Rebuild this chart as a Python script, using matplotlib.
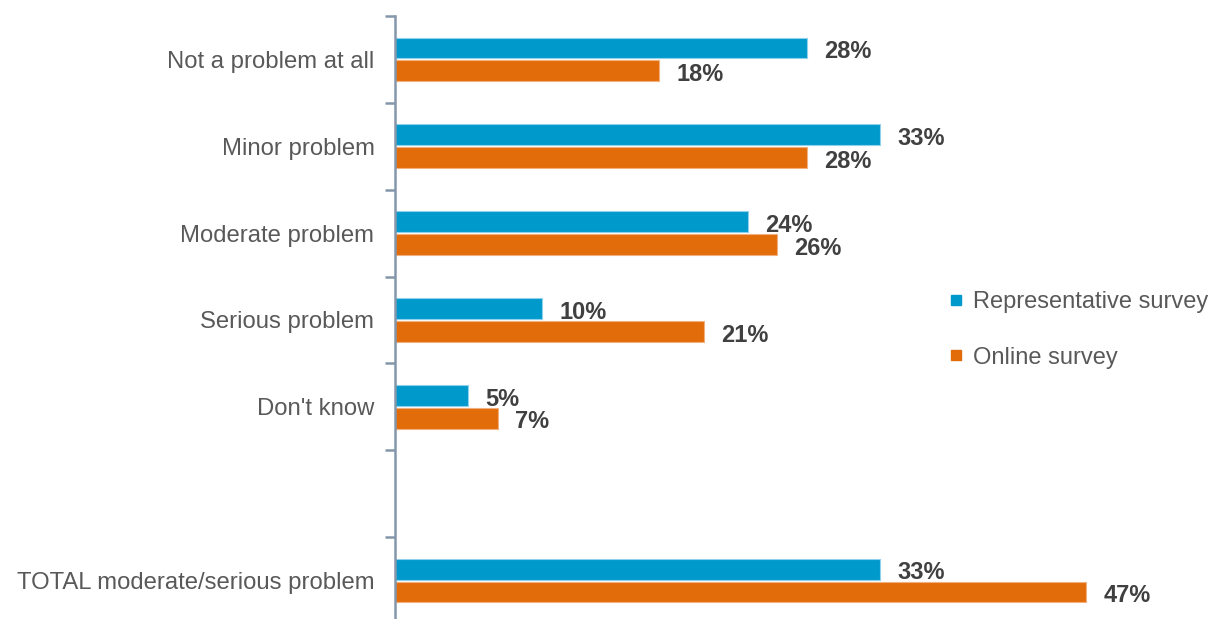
import matplotlib
matplotlib.use("Agg")
import matplotlib.pyplot as plt
from matplotlib.lines import Line2D
import numpy as np

categories = ["Not a problem at all", "Minor problem", "Moderate problem",
              "Serious problem", "Don't know", "", "TOTAL moderate/serious problem"]
representative = [28, 33, 24, 10, 5, None, 33]
online = [18, 28, 26, 21, 7, None, 47]
series_names = ["Representative survey", "Online survey"]

BLUE = "#0099CC"
ORANGE = "#E36C0A"
BLUE_EDGE = "#8FD0EA"
ORANGE_EDGE = "#F2B07E"
AXIS = "#8496AA"
LABEL = "#404040"
CAT = "#595959"

plt.rcParams["font.family"] = ["Liberation Sans", "DejaVu Sans"]

W, H = 1210, 619
fig = plt.figure(figsize=(W / 100, H / 100), dpi=100)
ax_left = 394.5 / W
ax_top = 16 / H
ax_height = 608 / H
ax = fig.add_axes([ax_left, 1 - ax_top - ax_height, 1 - ax_left, ax_height])

n = len(categories)
pos = np.arange(n) + 0.5
bar_h = 0.24
off = 0.132

for vals, sign, color, edge in [(representative, -1, BLUE, BLUE_EDGE),
                                (online, 1, ORANGE, ORANGE_EDGE)]:
    for p, v in zip(pos, vals):
        if v is None:
            continue
        y = p + sign * off
        ax.barh(y, v, height=bar_h, color=color, edgecolor=edge, linewidth=0.8)
        ax.annotate(f"{v}%", xy=(v, y), xytext=(12.5, -2.6), textcoords="offset points",
                    ha="left", va="center", fontsize=17, fontweight="bold", color=LABEL)

ax.set_ylim(n, 0)
ax.set_xlim(0, (W - 394.5) / 14.72)

# boundaries as major ticks, category names on minor ticks
ax.set_yticks(np.arange(n + 1))
ax.set_yticklabels([])
ax.set_yticks(pos, minor=True)
ax.set_yticklabels(categories, minor=True, fontsize=17.2, color=CAT)
ax.tick_params(axis="y", which="major", length=7, width=1.8, color=AXIS, direction="out")
ax.tick_params(axis="y", which="minor", length=0, pad=14.4)
ax.set_xticks([])

for s in ["top", "right", "bottom"]:
    ax.spines[s].set_visible(False)
ax.spines["left"].set_color(AXIS)
ax.spines["left"].set_linewidth(1.8)

handles = [Line2D([], [], marker="s", linestyle="none", markersize=6.5, color=c)
           for c in (BLUE, ORANGE)]
leg = fig.legend(handles, series_names, loc="upper left",
                 bbox_to_anchor=(949 / W, 1 - 291 / H), frameon=False,
                 fontsize=17, labelcolor=CAT, handlelength=0.6, handletextpad=0.4,
                 labelspacing=1.43, borderaxespad=0, borderpad=0)

fig.savefig("out.png", dpi=100)
